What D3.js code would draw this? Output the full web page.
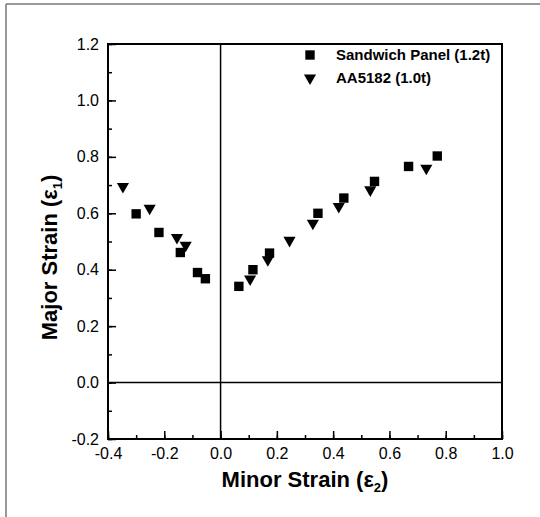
<!DOCTYPE html>
<html>
<head>
<meta charset="utf-8">
<script src="https://cdn.jsdelivr.net/npm/d3@7"></script>
<style>
  body { margin: 0; background: #fff; }
  svg { display: block; font-family: 'Liberation Sans', Arial, sans-serif; }
</style>
</head>
<body>
<div id="chart"></div>
<script>
// Sandwich Panel (1.2t)
const panelX = [-0.300, -0.219, -0.143, -0.082, -0.054, 0.065, 0.115, 0.174, 0.346, 0.438, 0.547, 0.668, 0.770];
const panelY = [0.598, 0.532, 0.461, 0.390, 0.368, 0.341, 0.400, 0.459, 0.600, 0.654, 0.713, 0.766, 0.803];
// AA5182 (1.0t)
const alloyX = [-0.347, -0.252, -0.155, -0.124, 0.105, 0.168, 0.245, 0.328, 0.420, 0.532, 0.731];
const alloyY = [0.695, 0.618, 0.514, 0.487, 0.367, 0.435, 0.504, 0.565, 0.624, 0.683, 0.760];

const xTicks = [-0.4, -0.2, 0.0, 0.2, 0.4, 0.6, 0.8, 1.0];
const yTicks = [-0.2, 0.0, 0.2, 0.4, 0.6, 0.8, 1.0, 1.2];
const legendLabels = ['Sandwich Panel (1.2t)', 'AA5182 (1.0t)'];

const W = 540, H = 517;
const margin = { top: 44, left: 108, right: 38, bottom: 78 };
const width = W - margin.left - margin.right;
const height = H - margin.top - margin.bottom;

// plain hyphen for negatives, like the original
const fmt = d => d.toFixed(1);

const svg = d3.select('#chart').append('svg')
  .attr('width', W)
  .attr('height', H);

// outer frame (scan edge)
svg.append('line').attr('x1', 6).attr('y1', 4).attr('x2', W).attr('y2', 4)
  .attr('stroke', '#777').attr('stroke-width', 1.5);
svg.append('line').attr('x1', 6).attr('y1', 4).attr('x2', 6).attr('y2', H)
  .attr('stroke', '#777').attr('stroke-width', 1.5);

const g = svg.append('g').attr('transform', `translate(${margin.left},${margin.top})`);

const x = d3.scaleLinear().domain([-0.4, 1.0]).range([0, width]);
const y = d3.scaleLinear().domain([-0.2, 1.2]).range([height, 0]);

// minor ticks
const minorX = d3.range(-0.4, 1.0001, 0.1).map(v => +v.toFixed(1));
const minorY = d3.range(-0.2, 1.2001, 0.1).map(v => +v.toFixed(1));

g.append('g')
  .attr('transform', `translate(0,${height})`)
  .call(d3.axisBottom(x).tickValues(minorX).tickSize(-4).tickFormat(''))
  .call(a => a.select('.domain').remove())
  .selectAll('line').attr('stroke-width', 1.5);
g.append('g')
  .call(d3.axisLeft(y).tickValues(minorY).tickSize(-4).tickFormat(''))
  .call(a => a.select('.domain').remove())
  .selectAll('line').attr('stroke-width', 1.5);

// major ticks + labels
const xAxis = g.append('g')
  .attr('transform', `translate(0,${height})`)
  .call(d3.axisBottom(x).tickValues(xTicks).tickSize(-8).tickPadding(9).tickFormat(fmt));
xAxis.select('.domain').remove();
xAxis.selectAll('line').attr('stroke-width', 1.5);
xAxis.selectAll('text').attr('font-size', 16).attr('fill', '#000')
  .attr('font-family', "'Liberation Sans', Arial, sans-serif");

const yAxis = g.append('g')
  .call(d3.axisLeft(y).tickValues(yTicks).tickSize(-8).tickPadding(9).tickFormat(fmt));
yAxis.select('.domain').remove();
yAxis.selectAll('line').attr('stroke-width', 1.5);
yAxis.selectAll('text').attr('font-size', 16).attr('fill', '#000')
  .attr('font-family', "'Liberation Sans', Arial, sans-serif");

// plot frame
g.append('rect')
  .attr('width', width).attr('height', height)
  .attr('fill', 'none').attr('stroke', '#000').attr('stroke-width', 2);

// zero lines
g.append('line')
  .attr('x1', 0).attr('x2', width).attr('y1', y(0)).attr('y2', y(0))
  .attr('stroke', '#000').attr('stroke-width', 1.5);
g.append('line')
  .attr('x1', x(0)).attr('x2', x(0)).attr('y1', 0).attr('y2', height)
  .attr('stroke', '#000').attr('stroke-width', 1.5);

const square = d3.symbol().type(d3.symbolSquare).size(88);
const triangle = d3.symbol().type(d3.symbolTriangle).size(64);

g.selectAll('path.panel')
  .data(panelX.map((v, i) => [v, panelY[i]]))
  .enter().append('path')
  .attr('class', 'panel')
  .attr('d', square)
  .attr('transform', d => `translate(${x(d[0])},${y(d[1])})`)
  .attr('fill', '#000');

g.selectAll('path.alloy')
  .data(alloyX.map((v, i) => [v, alloyY[i]]))
  .enter().append('path')
  .attr('class', 'alloy')
  .attr('d', triangle)
  .attr('transform', d => `translate(${x(d[0])},${y(d[1])}) rotate(180)`)
  .attr('fill', '#000');

// legend
const legend = svg.append('g').attr('transform', 'translate(310,55)');
legend.append('path').attr('d', square).attr('fill', '#000');
legend.append('path').attr('d', triangle)
  .attr('transform', 'translate(0,23) rotate(180)').attr('fill', '#000');
legend.selectAll('text')
  .data(legendLabels)
  .enter().append('text')
  .attr('x', 26)
  .attr('y', (d, i) => i * 23 + 5)
  .attr('font-size', 15)
  .attr('font-weight', 'bold')
  .text(d => d);

// axis titles
const xTitle = svg.append('text')
  .attr('x', margin.left + width / 2)
  .attr('y', 487)
  .attr('text-anchor', 'middle')
  .attr('font-size', 22)
  .attr('font-weight', 'bold');
xTitle.append('tspan').text('Minor Strain (ε');
xTitle.append('tspan').attr('font-size', 13).attr('dy', 5).text('2');
xTitle.append('tspan').attr('dy', -5).text(')');

const yTitle = svg.append('text')
  .attr('transform', `translate(57,${margin.top + height / 2 + 16}) rotate(-90)`)
  .attr('text-anchor', 'middle')
  .attr('font-size', 22)
  .attr('font-weight', 'bold');
yTitle.append('tspan').text('Major Strain (ε');
yTitle.append('tspan').attr('font-size', 13).attr('dy', 5).text('1');
yTitle.append('tspan').attr('dy', -5).text(')');
</script>
</body>
</html>
